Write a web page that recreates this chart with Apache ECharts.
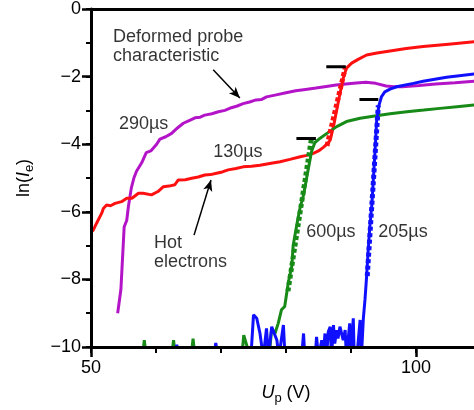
<!DOCTYPE html>
<html><head><meta charset="utf-8">
<script src="https://cdn.jsdelivr.net/npm/echarts@6/dist/echarts.min.js"></script>
<style>html,body{margin:0;padding:0;background:#fff}#c{width:474px;height:410px}</style>
</head><body><div id="c"></div>
<script>
// ---- data (x: Up in V, y: ln(Ie)) ----
const xTickLabels = [50, 100];
const yTickLabels = [0, -2, -4, -6, -8, -10];

const s290 = [[54.1,-9.0],[54.6,-8.3],[55.1,-6.45],[55.5,-6.25],[55.75,-5.85],[56.2,-5.3],[56.6,-5.0],[57.0,-4.8],[57.8,-4.55],[58.5,-4.25],[59.2,-4.2],[60.1,-4.0],[60.6,-3.85],[61.5,-3.78],[62.4,-3.68],[63.3,-3.52],[64.2,-3.38],[65.1,-3.3],[66.0,-3.22],[66.8,-3.2],[67.5,-3.14],[68.6,-3.1],[69.6,-3.04],[70.6,-3.0],[71.6,-2.92],[72.5,-2.87],[73.4,-2.8],[74.4,-2.75],[75.4,-2.69],[76.2,-2.68],[77.0,-2.6],[78.5,-2.54],[80.0,-2.48],[81.5,-2.42],[83.0,-2.38],[84.6,-2.34],[86.2,-2.29],[87.7,-2.25],[89.2,-2.22],[90.8,-2.19],[92.3,-2.17],[93.8,-2.2],[95.4,-2.28],[96.6,-2.3],[97.9,-2.3],[100.5,-2.26],[103,-2.22],[106,-2.18],[109.5,-2.13]];

const s130 = [[50,-6.6],[50.35,-6.54],[50.88,-6.33],[51.65,-6.04],[51.9,-5.9],[52.4,-5.8],[53.0,-5.82],[53.7,-5.75],[54.7,-5.7],[55.5,-5.6],[56.3,-5.6],[57.3,-5.45],[58.0,-5.45],[59.3,-5.5],[60.3,-5.4],[61.1,-5.26],[62.0,-5.24],[62.9,-5.2],[63.4,-5.06],[64.5,-5.05],[65.5,-5.01],[66.5,-4.97],[67.5,-4.91],[68.4,-4.9],[69.3,-4.86],[70.2,-4.82],[71.1,-4.76],[72.3,-4.72],[73.4,-4.67],[74.7,-4.65],[76.0,-4.62],[77.5,-4.57],[79.1,-4.52],[80.6,-4.45],[82.2,-4.37],[83.2,-4.33],[84.2,-4.27],[85.0,-4.2],[85.7,-4.1],[86.3,-4.0],[86.8,-3.88],[87.3,-3.48],[87.8,-2.99],[88.3,-2.5],[88.8,-2.05],[89.3,-1.75],[90.1,-1.6],[91.1,-1.49],[92.4,-1.36],[94.0,-1.3],[96.0,-1.24],[98.5,-1.17],[101.1,-1.11],[105,-1.04],[109.5,-0.96]];

const s600 = [[57.2,-10.3],[57.9,-10.3],[58.2,-9.8],[58.5,-10.3],[62.4,-10.3],[62.7,-9.8],[63.0,-10.3],[65.4,-10.3],[65.7,-9.75],[66.0,-10.3],[73.2,-10.3],[73.5,-9.65],[74.5,-10.3],[77.4,-10.3],[77.8,-9.45],[78.3,-9.6],[78.8,-9.3],[79.3,-8.9],[79.8,-8.8],[80.35,-8.1],[80.9,-7.6],[81.1,-7.0],[81.65,-6.4],[81.9,-6.14],[82.15,-5.9],[82.7,-5.5],[83.4,-4.76],[83.95,-4.2],[84.45,-3.95],[85.2,-3.83],[86.3,-3.68],[87.8,-3.48],[89.3,-3.33],[91.4,-3.23],[93.4,-3.17],[96.0,-3.1],[98.6,-3.04],[101.2,-2.99],[103.7,-2.94],[106.3,-2.89],[109.5,-2.83]];

const s205 = [[62.9,-10.3],[63.2,-9.93],[63.5,-10.3],[68.9,-10.3],[69.2,-9.88],[69.5,-10.3],[74.6,-10.3],[75.0,-9.05],[75.5,-9.15],[76.0,-9.6],[76.5,-10.3],[77.0,-9.45],[77.3,-10.3],[77.8,-9.4],[78.6,-9.8],[78.9,-10.3],[79.6,-9.35],[79.85,-10.3],[82.4,-10.3],[82.7,-9.6],[82.9,-10.3],[84.5,-10.3],[84.7,-9.7],[85.0,-10.3],[85.5,-9.8],[85.7,-10.3],[86.0,-9.6],[86.25,-10.3],[86.5,-9.55],[86.8,-9.4],[87.0,-10.3],[87.3,-9.35],[87.5,-9.9],[87.8,-9.5],[88.0,-9.75],[88.3,-9.4],[88.8,-9.8],[89.1,-9.5],[89.3,-10.3],[89.6,-9.7],[89.8,-9.3],[90.0,-10.3],[90.35,-9.15],[90.5,-10.3],[90.9,-10.3],[91.4,-9.2],[91.6,-10.3],[91.9,-9.15],[92.15,-8.6],[92.4,-7.92],[92.65,-7.13],[92.9,-6.44],[93.2,-5.8],[93.7,-4.2],[93.95,-3.3],[94.3,-2.85],[94.7,-2.59],[95.2,-2.45],[96.0,-2.37],[97.0,-2.3],[99.6,-2.2],[101.1,-2.14],[104.7,-2.02],[109.5,-1.91]];

// fitted tangents
const fit130 = [[86.3,-4.05],[89.1,-1.75]];
const fit600 = [[80.3,-8.35],[83.9,-3.85]];
const fit205 = [[92.5,-7.9],[94.2,-2.85]];

// saturation markers
const sat130 = [[86.2,-1.71],[89.2,-1.71]];
const sat600 = [[81.6,-3.83],[84.6,-3.83]];
const sat205 = [[91.3,-2.68],[94.2,-2.68]];

// annotations
const labels = [
  {x:53.4, y:-1.11, text:'Deformed probe\ncharacteristic', align:'left'},
  {x:58.1, y:-3.40, text:'290µs', align:'center'},
  {x:72.6, y:-4.23, text:'130µs', align:'center'},
  {x:59.7, y:-7.20, text:'Hot\nelectrons', align:'left'},
  {x:86.9, y:-6.60, text:'600µs', align:'center'},
  {x:98.0, y:-6.60, text:'205µs', align:'center'}
];
const arrows = [
  [[68.8,-1.80],[72.9,-2.63]],
  [[65.85,-6.69],[68.46,-5.06]]
];

const C = {m:'#b414c8', r:'#ff1010', g:'#178a17', b:'#1010ff'};
const FONT = 'Liberation Sans, Arial, sans-serif';

function lineSeries(data, color, width, extra) {
  return Object.assign({type:'line', data, symbol:'none', smooth:false, clip:true,
    lineStyle:{color, width}, itemStyle:{color}, silent:true, animation:false}, extra||{});
}
function dotted(data, color) {
  return lineSeries(data, color, 5, {lineStyle:{color, width:5, type:[4,2.5]}, z:4});
}
const richName = {
  i:{fontStyle:'italic', fontSize:18, fontFamily:FONT, color:'#000', lineHeight:24, verticalAlign:'middle'},
  s:{fontSize:13, fontFamily:FONT, color:'#000', lineHeight:24, verticalAlign:'bottom'}
};
const AX = '#000';
const XMIN = 50, XMAX = 110;

const chart = echarts.init(document.getElementById('c'), null, {renderer:'canvas'});
chart.setOption({
  animation:false,
  backgroundColor:'#fff',
  textStyle:{fontFamily:FONT},
  // plot runs slightly past the right edge of the picture (cut off, as in the reference)
  grid:{left:91, top:9, width:390, height:338, containLabel:false, outerBoundsMode:'none'},
  xAxis:[{
    type:'value', min:XMIN, max:XMAX, interval:10, position:'bottom', offset:0, z:5,
    axisLine:{show:true, onZero:false, lineStyle:{color:AX, width:3}},
    axisTick:{show:true, length:6, lineStyle:{color:AX, width:2}},
    splitLine:{show:false}, axisLabel:{show:false}
  },{
    type:'value', min:XMIN, max:XMAX, interval:50, position:'bottom', offset:0, z:6,
    axisLine:{show:false, onZero:false},
    axisTick:{show:true, length:10, lineStyle:{color:AX, width:2.5}},
    splitLine:{show:false},
    axisLabel:{color:'#000', fontSize:18, fontFamily:FONT, margin:12,
      formatter:v => xTickLabels.includes(v) ? String(v) : ''},
    name:'{i|U}{s|p} (V)', nameLocation:'middle', nameGap:34,
    nameTextStyle:{color:'#000', fontSize:18, fontFamily:FONT, rich:richName}
  }],
  yAxis:[{
    type:'value', min:-10, max:0, interval:1, position:'left', offset:0, z:5,
    axisLine:{show:true, onZero:false, lineStyle:{color:AX, width:3}},
    axisTick:{show:true, length:5, lineStyle:{color:AX, width:2}},
    splitLine:{show:false}, axisLabel:{show:false}
  },{
    type:'value', min:-10, max:0, interval:2, position:'left', offset:0, z:6,
    axisLine:{show:false, onZero:false},
    axisTick:{show:true, length:9, lineStyle:{color:AX, width:2.5}},
    splitLine:{show:false},
    axisLabel:{color:'#000', fontSize:18, fontFamily:FONT, margin:10,
      formatter:v => yTickLabels.includes(v) ? String(v).replace('-', '\u2212') : ''},
    name:'ln({i|I}{s|e})', nameLocation:'middle', nameGap:55, nameRotate:90,
    nameTextStyle:{color:'#000', fontSize:18, fontFamily:FONT, rich:richName}
  }],
  series:[
    lineSeries(s290, C.m, 3),
    lineSeries(s130, C.r, 3),
    lineSeries(s600, C.g, 3),
    lineSeries(s205, C.b, 3),
    dotted(fit130, C.r),
    dotted(fit600, C.g),
    dotted(fit205, C.b),
    lineSeries(sat130, '#000', 3, {z:4}),
    lineSeries(sat600, '#000', 3, {z:4}),
    lineSeries(sat205, '#000', 3, {z:4}),
    {
      type:'scatter', symbolSize:0, silent:true, z:6, clip:false,
      data: labels.map(l => ({value:[l.x, l.y], label:{show:true, position:'inside', formatter:l.text,
        align:l.align, verticalAlign:'middle', color:'#000', fontSize:18, lineHeight:19, fontFamily:FONT}})),
      markLine:{
        silent:true, symbol:['none','arrow'], symbolSize:[7,11], precision:4,
        lineStyle:{color:'#000', width:1.5, type:'solid'}, label:{show:false},
        data: arrows.map(a => [{coord:a[0]},{coord:a[1]}])
      }
    },
    {
      // top frame line at y = 0
      type:'line', data:[], silent:true, z:5,
      markLine:{silent:true, symbol:['none','none'], label:{show:false},
        lineStyle:{color:AX, width:3, type:'solid'}, data:[{yAxis:0}]}
    }
  ]
});
</script>
</body></html>
